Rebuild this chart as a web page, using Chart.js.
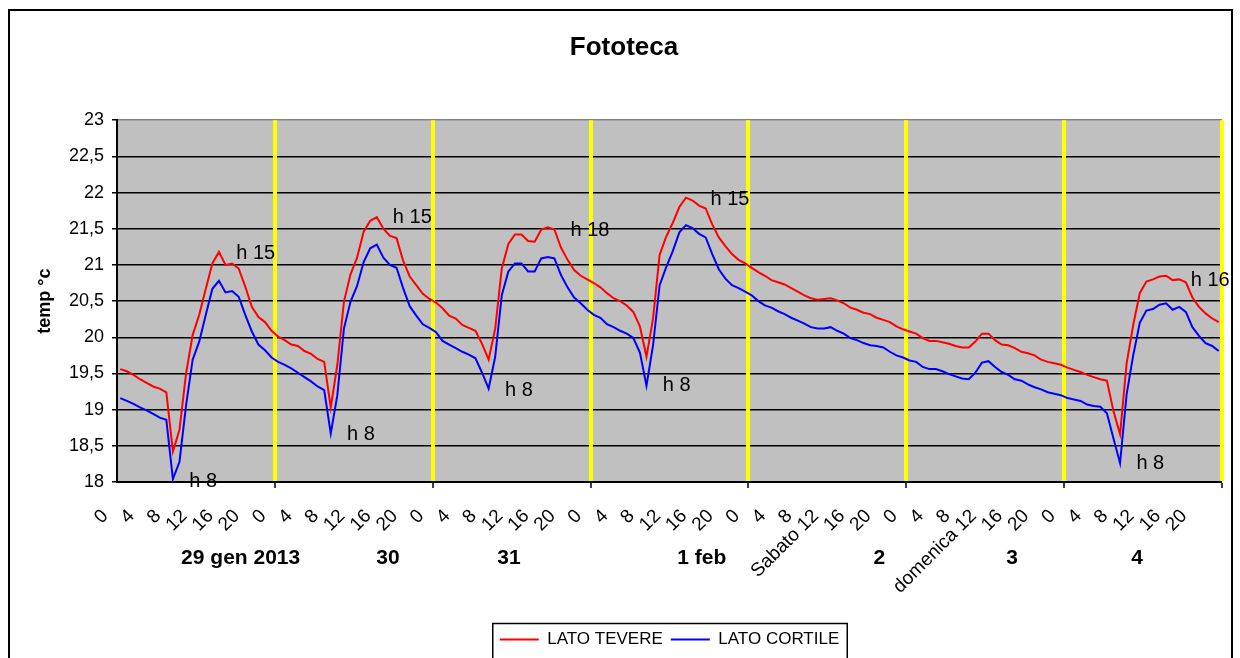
<!DOCTYPE html>
<html>
<head>
<meta charset="utf-8">
<script src="https://cdn.jsdelivr.net/npm/chart.js@4.4.1/dist/chart.umd.min.js"></script>
<style>
  html, body { margin: 0; padding: 0; background: #fff; }
  canvas { display: block; }
</style>
</head>
<body>
<canvas id="c" width="1240" height="658"></canvas>
<script>
const FONT = '"Liberation Sans", Arial, sans-serif';

// Hourly readings from 29 Jan 2013 00:00 to 4 Feb 2013 23:00
const hours = [];
for (let d = 0; d < 7; d++) for (let h = 0; h < 24; h++) hours.push(String(h));

const latoTevere = [
  19.56,19.53,19.48,19.42,19.37,19.32,19.29,19.24,18.42,18.72,19.50,20.03,20.31,20.67,21.02,21.18,21.00,21.02,20.95,20.70,20.42,20.28,20.21,20.09,
  20.01,19.96,19.90,19.88,19.81,19.77,19.70,19.66,19.03,19.62,20.49,20.87,21.10,21.46,21.61,21.66,21.50,21.40,21.37,21.06,20.84,20.72,20.60,20.53,
  20.48,20.40,20.30,20.26,20.17,20.13,20.09,19.91,19.69,20.12,20.95,21.29,21.42,21.42,21.33,21.32,21.49,21.52,21.49,21.24,21.07,20.93,20.85,20.80,
  20.75,20.69,20.61,20.54,20.50,20.44,20.35,20.15,19.73,20.26,21.14,21.39,21.58,21.80,21.93,21.89,21.82,21.78,21.56,21.38,21.26,21.15,21.07,21.02,
  20.96,20.90,20.85,20.79,20.76,20.73,20.68,20.63,20.58,20.54,20.52,20.53,20.54,20.51,20.47,20.41,20.38,20.34,20.32,20.27,20.24,20.21,20.15,20.11,
  20.08,20.05,19.99,19.95,19.95,19.93,19.91,19.88,19.86,19.86,19.94,20.05,20.05,19.96,19.90,19.89,19.85,19.80,19.78,19.75,19.69,19.66,19.64,19.62,
  19.58,19.55,19.52,19.48,19.45,19.42,19.40,18.98,18.66,19.64,20.17,20.61,20.77,20.80,20.84,20.85,20.79,20.80,20.76,20.55,20.42,20.33,20.26,20.21
];

const latoCortile = [
  19.16,19.12,19.08,19.03,18.99,18.94,18.89,18.86,18.04,18.28,19.06,19.69,19.94,20.31,20.67,20.78,20.62,20.64,20.56,20.31,20.08,19.90,19.82,19.72,
  19.66,19.62,19.57,19.51,19.45,19.39,19.32,19.27,18.67,19.20,20.12,20.49,20.71,21.04,21.23,21.28,21.10,21.00,20.96,20.68,20.43,20.30,20.18,20.13,
  20.07,19.95,19.90,19.85,19.80,19.76,19.71,19.51,19.29,19.73,20.58,20.91,21.02,21.02,20.91,20.91,21.09,21.11,21.09,20.86,20.69,20.55,20.47,20.38,
  20.31,20.27,20.18,20.14,20.09,20.05,19.99,19.79,19.33,19.89,20.72,20.97,21.19,21.45,21.55,21.51,21.43,21.38,21.15,20.94,20.81,20.72,20.68,20.63,
  20.58,20.50,20.44,20.41,20.36,20.32,20.27,20.23,20.19,20.14,20.12,20.12,20.14,20.09,20.05,19.99,19.96,19.92,19.89,19.88,19.86,19.80,19.75,19.72,
  19.68,19.66,19.59,19.56,19.56,19.53,19.49,19.46,19.43,19.42,19.51,19.65,19.67,19.59,19.52,19.48,19.42,19.40,19.35,19.31,19.28,19.24,19.22,19.20,
  19.16,19.14,19.12,19.07,19.05,19.04,18.95,18.60,18.26,19.21,19.75,20.20,20.37,20.39,20.45,20.47,20.38,20.42,20.35,20.14,20.02,19.92,19.88,19.81
];

// weekday names shown with the noon tick of the weekend days
const weekdayTicks = { 108: 'Sabato 12', 132: 'domenica 12' };

// day captions under the hour ticks (position in hours from the start)
const dayNames = ['29 gen 2013', '30', '31', '1 feb', '2', '3', '4'];
const dayNameAt = [18.3, 40.7, 59.1, 88.4, 115.4, 135.6, 154.6];

// hour notes beside minima and maxima
const noteText = ['h 8', 'h 15', 'h 8', 'h 15', 'h 8', 'h 18', 'h 8', 'h 15', 'h 8', 'h 16'];
const noteHour = [12.6, 20.6, 36.6, 44.4, 60.6, 71.4, 84.6, 92.7, 156.6, 165.7];
const noteTemp = [18.01, 21.16, 18.66, 21.65, 19.27, 21.47, 19.33, 21.90, 18.26, 20.78];

// midnight separators (grid line on the left edge of each day's first hour)
function isDayEdge(c) {
  if (c.index === undefined) return true;
  return c.index > 0 && c.index % 24 === 0;
}

const decor = {
  id: 'decor',
  beforeDraw(chart) {
    const { ctx, chartArea: a } = chart;
    ctx.save();
    ctx.fillStyle = '#ffffff';
    ctx.fillRect(0, 0, chart.width, chart.height);
    ctx.fillStyle = '#c0c0c0';
    ctx.fillRect(a.left, a.top, a.right - a.left, a.bottom - a.top);
    ctx.restore();
  },
  afterLayout(chart) {
    const lg = chart.legend, a = chart.chartArea;
    const dx = (a.left + a.right) / 2 - (lg.left + lg.right) / 2;
    lg.left += dx;
    lg.right += dx;
    const tb = chart.titleBlock;
    tb.left += 8;
    tb.right += 8;
  },
  afterDraw(chart) {
    const { ctx, scales: { x, y } } = chart;
    ctx.save();
    ctx.fillStyle = '#000';
    ctx.textAlign = 'center';
    ctx.textBaseline = 'middle';

    ctx.font = 'bold 21px ' + FONT;
    dayNames.forEach((t, i) => ctx.fillText(t, x.getPixelForValue(dayNameAt[i]), x.top + 76));

    ctx.font = '20px ' + FONT;
    noteText.forEach((t, i) => ctx.fillText(t, x.getPixelForValue(noteHour[i]), y.getPixelForValue(noteTemp[i])));

    // frame around the legend
    const lg = chart.legend, hb = lg.legendHitBoxes;
    const last = hb[hb.length - 1];
    const l = hb[0].left - 7, r = last.left + last.width + 8;
    ctx.strokeStyle = '#000';
    ctx.lineWidth = 1.5;
    ctx.strokeRect(l, lg.top + 0.5, r - l, 60);

    // outer frame of the chart
    ctx.lineWidth = 2;
    ctx.strokeRect(9, 10, 1223, 700);
    ctx.restore();
  }
};

new Chart(document.getElementById('c'), {
  type: 'line',
  data: {
    labels: hours,
    datasets: [
      { label: 'LATO TEVERE', data: latoTevere, borderColor: '#ff0000', backgroundColor: '#ff0000',
        borderWidth: 2, pointRadius: 0, tension: 0 },
      { label: 'LATO CORTILE', data: latoCortile, borderColor: '#0000ff', backgroundColor: '#0000ff',
        borderWidth: 2, pointRadius: 0, tension: 0 }
    ]
  },
  options: {
    responsive: false,
    animation: false,
    devicePixelRatio: 1,
    layout: { padding: { left: 10, right: 18, top: 0, bottom: 0 } },
    plugins: {
      title: {
        display: true, text: 'Fototeca', color: '#000',
        font: { family: FONT, size: 26, weight: 'bold' },
        padding: { top: 32, bottom: 57 }
      },
      legend: {
        position: 'bottom',
        labels: {
          usePointStyle: true, pointStyle: 'line', pointStyleWidth: 39, boxHeight: 17,
          font: { family: FONT, size: 17 }, color: '#000', padding: 8
        }
      },
      tooltip: { enabled: false }
    },
    scales: {
      x: {
        offset: true,
        afterFit(s) {
          s.height = 141;
          s.paddingLeft = 0;
          s.paddingRight = 0;
        },
        grid: {
          offset: true, z: -1,
          color: c => isDayEdge(c) ? '#ffff00' : 'rgba(0,0,0,0)',
          lineWidth: c => isDayEdge(c) ? 4 : 0,
          tickColor: c => isDayEdge(c) ? '#000' : 'rgba(0,0,0,0)',
          tickWidth: 1.5, tickLength: 6
        },
        border: { color: '#000', width: 2 },
        ticks: {
          autoSkip: false, minRotation: 45, maxRotation: 45,
          labelOffset: -15, padding: 17, color: '#000',
          font: { family: FONT, size: 19 },
          callback(v, i) {
            if (weekdayTicks[i]) return weekdayTicks[i];
            const h = Number(hours[i]);
            return h % 4 === 0 ? String(h) : '';
          }
        }
      },
      y: {
        min: 18, max: 23,
        afterFit(s) { s.width = 107; },
        grid: {
          z: -2,
          color: c => (c.tick && c.tick.value === 23) ? '#808080' : '#000',
          lineWidth: 1.5, tickColor: '#000', tickLength: 5, tickWidth: 1.5
        },
        border: { color: '#000', width: 2 },
        ticks: {
          stepSize: 0.5, padding: 8, color: '#000',
          font: { family: FONT, size: 18 },
          callback: v => String(v).replace('.', ',')
        },
        title: {
          display: true, text: 'temp °c', color: '#000',
          font: { family: FONT, size: 18, weight: 'bold' },
          padding: { top: 24, bottom: 0 }
        }
      }
    }
  },
  plugins: [decor]
});
</script>
</body>
</html>
